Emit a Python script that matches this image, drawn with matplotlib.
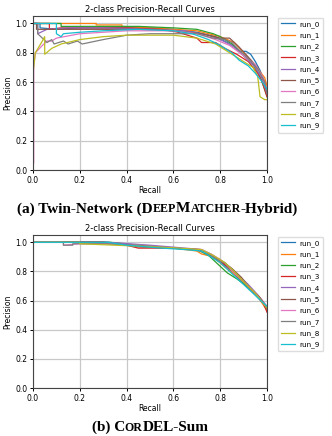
import matplotlib.pyplot as plt


run_names = [f"run_{i}" for i in range(10)]

# Panel (a): Twin-Network, one recall / precision list per run
a_recall = [
    [0.0, 0.03, 0.03, 0.1, 0.2, 0.3, 0.4, 0.5, 0.6, 0.7, 0.78, 0.83, 0.86, 0.88, 0.91, 0.93, 0.95, 0.97, 0.99, 1.0],
    [0.0, 0.27, 0.27, 0.38, 0.38, 0.5, 0.6, 0.7, 0.8, 0.86, 0.9, 0.94, 0.97, 0.99, 1.0],
    [0.0, 0.12, 0.12, 0.3, 0.45, 0.6, 0.7, 0.77, 0.8, 0.85, 0.9, 0.94, 0.97, 1.0],
    [0.0, 0.07, 0.07, 0.12, 0.2, 0.4, 0.55, 0.62, 0.7, 0.72, 0.78, 0.82, 0.87, 0.92, 0.96, 0.98, 1.0],
    [0.0, 0.02, 0.02, 0.06, 0.15, 0.3, 0.5, 0.65, 0.75, 0.8, 0.85, 0.9, 0.95, 0.98, 1.0],
    [0.0, 0.015, 0.015, 0.1, 0.25, 0.45, 0.6, 0.72, 0.8, 0.84, 0.88, 0.92, 0.96, 0.99, 1.0],
    [0.003, 0.003, 0.01, 0.04, 0.06, 0.08, 0.1, 0.2, 0.3, 0.4, 0.5, 0.6, 0.7, 0.78, 0.84, 0.9, 0.95, 0.98, 1.0],
    [0.0, 0.02, 0.02, 0.04, 0.06, 0.08, 0.09, 0.13, 0.15, 0.19, 0.21, 0.3, 0.4, 0.5, 0.6, 0.7, 0.77, 0.82, 0.85, 0.88, 0.92, 0.96, 0.99, 1.0],
    [0.0, 0.01, 0.04, 0.05, 0.05, 0.08, 0.12, 0.2, 0.3, 0.4, 0.5, 0.6, 0.7, 0.78, 0.84, 0.9, 0.94, 0.96, 0.97, 0.99, 1.0],
    [0.0, 0.1, 0.1, 0.12, 0.13, 0.2, 0.3, 0.45, 0.6, 0.68, 0.75, 0.8, 0.85, 0.88, 0.92, 0.95, 0.98, 1.0],
]
a_precision = [
    [1.0, 1.0, 0.97, 0.96, 0.97, 0.97, 0.97, 0.97, 0.96, 0.94, 0.91, 0.87, 0.84, 0.81, 0.81, 0.79, 0.74, 0.68, 0.6, 0.52],
    [1.0, 1.0, 0.99, 0.99, 0.98, 0.97, 0.96, 0.95, 0.91, 0.87, 0.8, 0.73, 0.67, 0.63, 0.57],
    [1.0, 1.0, 0.98, 0.98, 0.98, 0.97, 0.96, 0.93, 0.91, 0.86, 0.78, 0.72, 0.64, 0.5],
    [1.0, 1.0, 0.96, 0.97, 0.97, 0.97, 0.96, 0.94, 0.9, 0.87, 0.87, 0.83, 0.79, 0.74, 0.66, 0.6, 0.5],
    [1.0, 1.0, 0.93, 0.96, 0.97, 0.97, 0.96, 0.95, 0.92, 0.89, 0.85, 0.78, 0.7, 0.62, 0.52],
    [1.0, 1.0, 0.96, 0.96, 0.96, 0.96, 0.95, 0.93, 0.9, 0.9, 0.84, 0.77, 0.7, 0.6, 0.53],
    [0.05, 0.7, 0.8, 0.85, 0.88, 0.88, 0.9, 0.93, 0.94, 0.95, 0.95, 0.95, 0.93, 0.89, 0.85, 0.78, 0.72, 0.64, 0.55],
    [1.0, 1.0, 0.93, 0.9, 0.87, 0.89, 0.86, 0.88, 0.86, 0.88, 0.86, 0.89, 0.92, 0.93, 0.93, 0.93, 0.9, 0.89, 0.87, 0.82, 0.76, 0.69, 0.6, 0.52],
    [0.66, 0.8, 0.88, 0.91, 0.79, 0.83, 0.86, 0.89, 0.91, 0.92, 0.92, 0.92, 0.9, 0.86, 0.8, 0.74, 0.7, 0.64, 0.5, 0.48, 0.48],
    [1.0, 1.0, 0.93, 0.91, 0.93, 0.94, 0.95, 0.96, 0.95, 0.93, 0.89, 0.85, 0.8, 0.75, 0.71, 0.66, 0.6, 0.55],
]

# Panel (b): CorDEL-Sum
b_recall = [
    [0.0, 0.32, 0.4, 0.5, 0.6, 0.7, 0.74, 0.78, 0.82, 0.86, 0.9, 0.95, 1.0],
    [0.0, 0.3, 0.45, 0.6, 0.7, 0.72, 0.77, 0.82, 0.87, 0.91, 0.96, 1.0],
    [0.0, 0.33, 0.45, 0.6, 0.7, 0.75, 0.79, 0.83, 0.87, 0.92, 0.96, 1.0],
    [0.0, 0.3, 0.4, 0.45, 0.6, 0.72, 0.76, 0.8, 0.85, 0.9, 0.94, 0.98, 1.0],
    [0.0, 0.32, 0.5, 0.65, 0.72, 0.76, 0.8, 0.84, 0.88, 0.92, 0.96, 1.0],
    [0.0, 0.3, 0.45, 0.6, 0.7, 0.75, 0.8, 0.85, 0.89, 0.93, 0.97, 1.0],
    [0.0, 0.13, 0.13, 0.2, 0.3, 0.45, 0.6, 0.72, 0.77, 0.82, 0.86, 0.9, 0.95, 1.0],
    [0.0, 0.13, 0.13, 0.17, 0.17, 0.3, 0.45, 0.6, 0.7, 0.75, 0.8, 0.82, 0.86, 0.9, 0.95, 1.0],
    [0.0, 0.2, 0.2, 0.35, 0.5, 0.62, 0.72, 0.77, 0.82, 0.86, 0.9, 0.95, 1.0],
    [0.0, 0.32, 0.4, 0.55, 0.65, 0.72, 0.76, 0.8, 0.84, 0.88, 0.92, 0.96, 1.0],
]
b_precision = [
    [1.0, 1.0, 0.98, 0.97, 0.96, 0.95, 0.93, 0.89, 0.84, 0.78, 0.72, 0.64, 0.55],
    [1.0, 1.0, 0.97, 0.96, 0.94, 0.92, 0.9, 0.83, 0.77, 0.71, 0.63, 0.53],
    [1.0, 1.0, 0.98, 0.96, 0.95, 0.91, 0.85, 0.79, 0.75, 0.69, 0.63, 0.55],
    [1.0, 1.0, 0.98, 0.96, 0.96, 0.95, 0.91, 0.87, 0.81, 0.73, 0.66, 0.6, 0.52],
    [1.0, 1.0, 0.98, 0.96, 0.95, 0.92, 0.88, 0.83, 0.77, 0.71, 0.64, 0.56],
    [1.0, 1.0, 0.97, 0.96, 0.95, 0.92, 0.88, 0.82, 0.76, 0.68, 0.62, 0.54],
    [1.0, 1.0, 0.98, 0.99, 0.99, 0.98, 0.96, 0.95, 0.91, 0.86, 0.79, 0.73, 0.65, 0.55],
    [1.0, 1.0, 0.98, 0.98, 0.99, 0.99, 0.98, 0.96, 0.95, 0.92, 0.87, 0.86, 0.8, 0.73, 0.65, 0.55],
    [1.0, 1.0, 0.99, 0.98, 0.97, 0.96, 0.95, 0.91, 0.86, 0.8, 0.73, 0.65, 0.55],
    [1.0, 1.0, 0.98, 0.96, 0.95, 0.94, 0.9, 0.86, 0.8, 0.74, 0.68, 0.62, 0.56],
]

# caption pieces: (text, small caps?)
caption_a = [("(a) Twin-Network (D", False), ("EEP", True), ("M", False),
             ("ATCHER", True), ("-Hybrid)", False)]
caption_b = [("(b) C", False), ("OR", True), ("DEL-Sum", False)]

plt.rcParams.update({
    "font.size": 5.5,
    "axes.titlesize": 6,
    "axes.labelsize": 5.5,
    "xtick.labelsize": 5.5,
    "ytick.labelsize": 5.5,
    "legend.fontsize": 5.2,
})

fig = plt.figure(figsize=(3.32, 4.36), dpi=100)
ax_a = fig.add_axes([0.0994, 0.610, 0.705, 0.353])
ax_b = fig.add_axes([0.0994, 0.110, 0.705, 0.351])

for ax, rec, prec in [(ax_a, a_recall, a_precision), (ax_b, b_recall, b_precision)]:
    for name, r, p in zip(run_names, rec, prec):
        ax.plot(r, p, linewidth=0.9, label=name)
    ax.set_xlim(0.0, 1.0)
    ax.set_ylim(0.0, 1.05)
    ax.set_xlabel("Recall", labelpad=1)
    ax.set_ylabel("Precision", labelpad=2)
    ax.set_title("2-class Precision-Recall Curves", pad=3)
    ax.grid(True, color="#c8c8c8", linewidth=0.9)
    ax.tick_params(length=2.5, pad=1.5, width=0.7)
    for s in ax.spines.values():
        s.set_color("#444444")
        s.set_linewidth(0.8)
    ax.legend(loc="upper left", bbox_to_anchor=(1.045, 0.99), handlelength=2.0,
              handletextpad=0.6, borderpad=0.45, labelspacing=0.62,
              borderaxespad=0.0, framealpha=1.0, edgecolor="#dddddd")


def small_caps_caption(pieces, xc, yc, size=11):
    renderer = fig.canvas.get_renderer()
    texts = []
    for txt, small in pieces:
        t = fig.text(0, yc, txt, family="Liberation Serif", weight="bold",
                     size=size * 0.78 if small else size, va="baseline")
        texts.append(t)
    widths = [t.get_window_extent(renderer).width for t in texts]
    x = xc * fig.bbox.width - sum(widths) / 2
    for t, w in zip(texts, widths):
        t.set_x(x / fig.bbox.width)
        x += w


small_caps_caption(caption_a, 0.475, 0.513)
small_caps_caption(caption_b, 0.452, 0.011)

fig.savefig("out.png", dpi=100)
